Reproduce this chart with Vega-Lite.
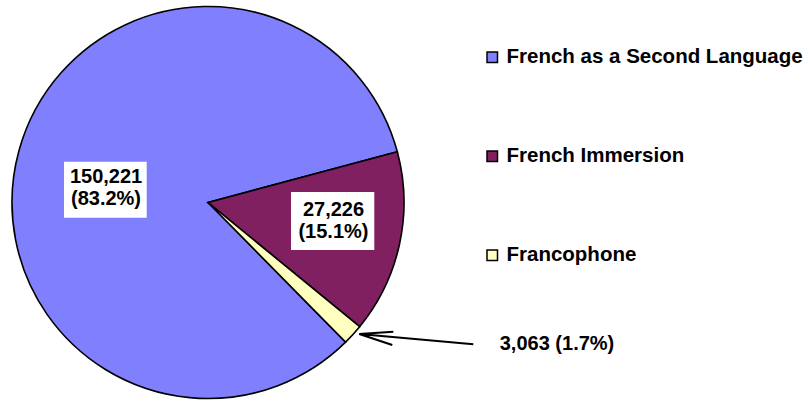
{
  "$schema": "https://vega.github.io/schema/vega-lite/v6.json",
  "autosize": {"type": "none"},
  "width": 416,
  "height": 397,
  "padding": {"left": 0, "top": 4, "right": 396, "bottom": 0},
  "background": "white",
  "config": {"view": {"stroke": null}},
  "data": {
    "values": [
      {"category": "French as a Second Language", "value": 150221, "pct": 83.2},
      {"category": "French Immersion", "value": 27226, "pct": 15.1},
      {"category": "Francophone", "value": 3063, "pct": 1.7}
    ]
  },
  "transform": [
    {"stack": "value", "groupby": [], "as": ["v0", "v1"]},
    {"calculate": "[format(datum.value, ','), '(' + format(datum.pct, '.1f') + '%)']", "as": "label2"},
    {"calculate": "format(datum.value, ',') + ' (' + format(datum.pct, '.1f') + '%)'", "as": "label1"}
  ],
  "layer": [
    {
      "mark": {"type": "arc", "outerRadius": 196, "stroke": "black", "strokeWidth": 1.6, "strokeJoin": "miter"},
      "encoding": {
        "theta": {"field": "v0", "type": "quantitative", "scale": {"range": [2.3634, 8.6466], "zero": true, "nice": false}},
        "theta2": {"field": "v1"},
        "color": {
          "field": "category",
          "type": "nominal",
          "scale": {
            "domain": ["French as a Second Language", "French Immersion", "Francophone"],
            "range": ["#8080FF", "#802060", "#FFFFC0"]
          },
          "legend": {
            "orient": "none",
            "legendX": 482,
            "legendY": 43,
            "title": null,
            "symbolType": "square",
            "symbolSize": 110,
            "symbolStrokeColor": "black",
            "symbolStrokeWidth": 1.5,
            "symbolOpacity": 1,
            "labelFontSize": 20.5,
            "labelFont": "Liberation Sans",
            "labelFontWeight": "bold",
            "labelColor": "black",
            "rowPadding": 78,
            "labelOffset": 4,
            "padding": 0,
            "labelLimit": 400
          }
        }
      }
    },
    {
      "transform": [{"filter": "datum.category == 'French as a Second Language'"}],
      "mark": {"type": "point", "shape": "M-144,-40.8H-61.3V15.2H-144Z", "size": 4, "filled": true, "fill": "white", "strokeWidth": 0, "opacity": 1},
      "encoding": {}
    },
    {
      "transform": [{"filter": "datum.category == 'French Immersion'"}],
      "mark": {"type": "point", "shape": "M83,-10.5H166.3V47.5H83Z", "size": 4, "filled": true, "fill": "white", "strokeWidth": 0, "opacity": 1},
      "encoding": {}
    },
    {
      "transform": [{"filter": "datum.category == 'Francophone'"}],
      "mark": {"type": "point", "shape": "M265.3,141.8L151.3,131.5M185.3,129.2L151.3,131.5L184.3,142.5", "size": 4, "filled": false, "stroke": "black", "strokeWidth": 2, "opacity": 1},
      "encoding": {}
    },
    {
      "transform": [{"filter": "datum.category == 'French as a Second Language'"}],
      "mark": {"type": "text", "font": "Liberation Sans", "fontWeight": "bold", "fontSize": 20, "lineHeight": 22, "radius": 105.0, "thetaOffset": -2.6395, "align": "center", "baseline": "middle", "color": "black"},
      "encoding": {
        "theta": {"field": "v1", "type": "quantitative"},
        "text": {"field": "label2"}
      }
    },
    {
      "transform": [{"filter": "datum.category == 'French Immersion'"}],
      "mark": {"type": "text", "font": "Liberation Sans", "fontWeight": "bold", "fontSize": 20, "lineHeight": 22, "radius": 125.7, "thetaOffset": -0.6262, "align": "center", "baseline": "middle", "color": "black"},
      "encoding": {
        "theta": {"field": "v1", "type": "quantitative"},
        "text": {"field": "label2"}
      }
    },
    {
      "transform": [{"filter": "datum.category == 'Francophone'"}],
      "mark": {"type": "text", "font": "Liberation Sans", "fontWeight": "bold", "fontSize": 20, "radius": 376.6, "thetaOffset": -0.4074, "align": "center", "baseline": "middle", "color": "black"},
      "encoding": {
        "theta": {"field": "v1", "type": "quantitative"},
        "text": {"field": "label1"}
      }
    }
  ]
}
